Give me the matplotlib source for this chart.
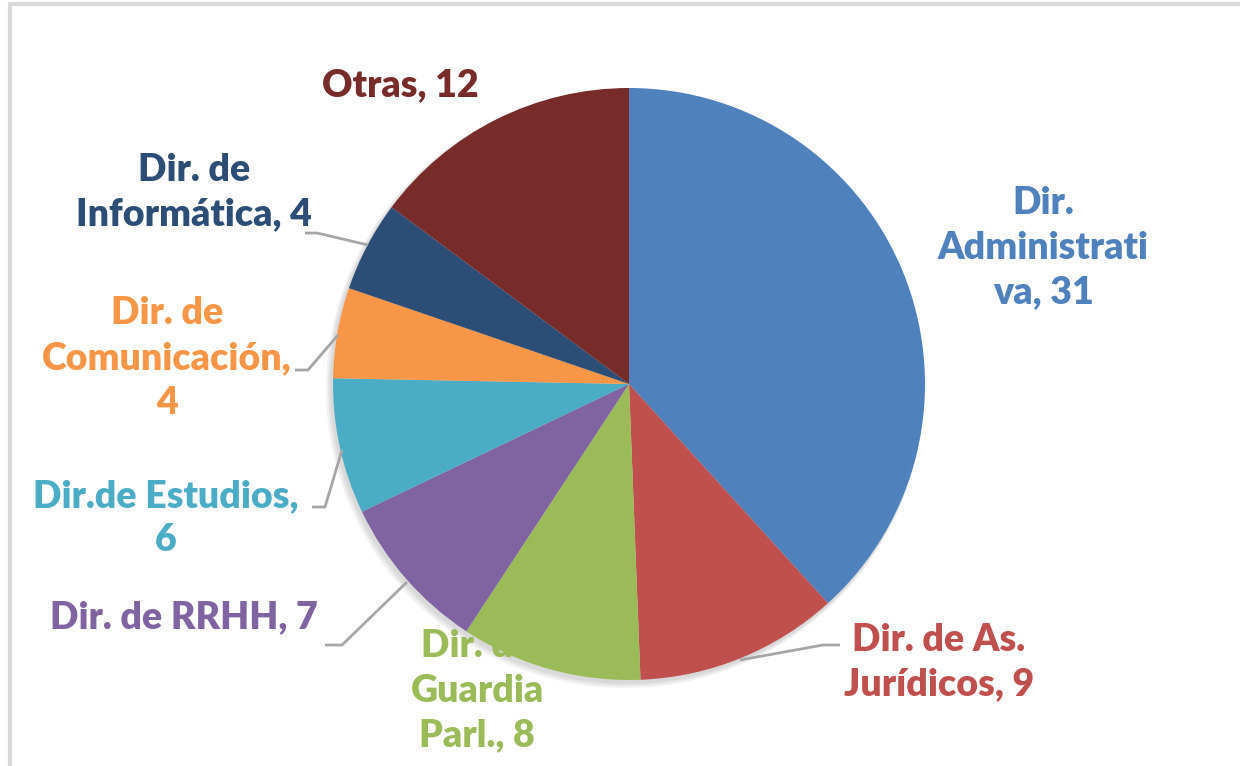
import matplotlib.pyplot as plt
from matplotlib.patches import Circle, Rectangle

# data
categories = ["Dir. Administrativa", "Dir. de As. Jurídicos", "Dir. de Guardia Parl.",
              "Dir. de RRHH", "Dir.de Estudios", "Dir. de Comunicación",
              "Dir. de Informática", "Otras"]
values = [31, 9, 8, 7, 6, 4, 4, 12]
colors = ["#4f81bd", "#c0504d", "#9bbb59", "#8064a2", "#4bacc6", "#f79646", "#2c4d75", "#772c2a"]
label_texts = ["Dir.\nAdministrati\nva, 31", "Dir. de As.\nJurídicos, 9", "Dir. de\nGuardia\nParl., 8",
               "Dir. de RRHH, 7", "Dir.de Estudios,\n6", "Dir. de\nComunicación,\n4",
               "Dir. de\nInformática, 4", "Otras, 12"]

# layout in pixel coordinates (y from top)
W, H = 1240, 766
cx, cy, r = 629, 384, 296
label_pos = [(1043, 248), (939, 662), (477, 691), (184, 617), (166, 518),
             (167, 358), (194, 192), (400, 85)]
leaders = {
    1: [(740, 660), (823, 645), (840, 645)],
    3: [(407, 582), (342, 645), (325, 645)],
    4: [(342, 450), (325, 507), (312, 507)],
    5: [(338, 335), (308, 370), (295, 370)],
    6: [(368, 245), (317, 233), (305, 233)],
}

fig = plt.figure(figsize=(W / 100, H / 100), dpi=100)
ax = fig.add_axes([0, 0, 1, 1])

# outer frame
ax.add_patch(Rectangle((10, -10), W + 20, H + 6, fill=False,
                       edgecolor="#d9d9d9", linewidth=3, zorder=0))

# soft shadow
for i in range(3):
    ax.add_patch(Circle((cx - 2 - i, H - cy - 3 - i), r + 1 + i, color="black",
                        alpha=0.05, linewidth=0, zorder=1))

ax.pie(values, colors=colors, startangle=90, counterclock=False,
       center=(cx, H - cy), radius=r, frame=True,
       wedgeprops=dict(linewidth=0, zorder=3))
ax.set_xlim(0, W)
ax.set_ylim(0, H)
ax.set_aspect("equal")
ax.axis("off")

for i, (txt, (x, y)) in enumerate(zip(label_texts, label_pos)):
    ax.text(x, H - y, txt, ha="center", va="center", fontsize=27,
            fontfamily="Lato", fontweight="heavy", color=colors[i],
            linespacing=1.38, zorder=2)

for i, pts in leaders.items():
    ax.plot([p[0] for p in pts], [H - p[1] for p in pts], color="#a6a6a6",
            linewidth=2, zorder=4, solid_capstyle="butt")

fig.savefig("out.png", dpi=100)
